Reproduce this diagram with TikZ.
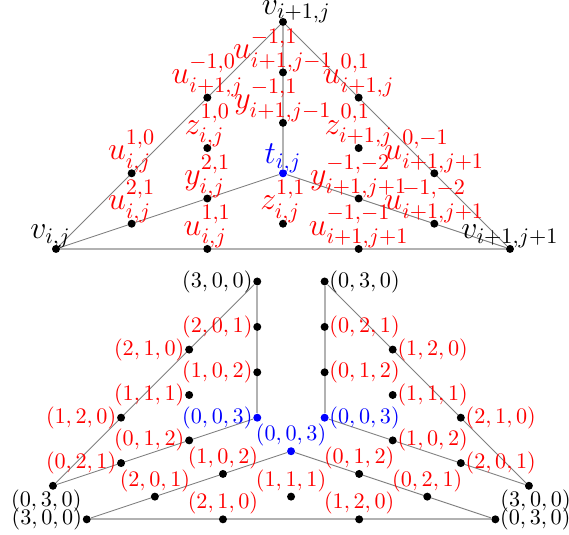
\documentclass[tikz,border=0pt]{standalone}
\usepackage{amsmath}
\usepackage{amssymb}
\usepackage{tikz}
\usetikzlibrary{backgrounds}

\tikzset{
  pt/.style={circle, fill=black, inner sep=0pt, minimum size=3.6pt},
  bpt/.style={pt, fill=blue},
  thinedge/.style={gray, line width=0.4pt},
  rimedge/.style={gray!60, line width=0.9pt},
}

\begin{document}
\begin{tikzpicture}[x=0.4cm, y=0.4cm, every label/.style={red, inner sep=0pt}, label distance=0pt]
\useasboundingbox (-2.22,-11.34) rectangle (20.34,9.87);

\begin{scope}[every label/.append style={font=\Large}, label distance=-1.8pt]
  \node[pt, label={[black,xshift=-2.5pt]above:$v_{i,j}$}] (vij) at (0,0) {};
  \node[pt, label={[black,xshift=6pt,yshift=-1pt]above:$v_{i+1,j}$}] (vi1j) at (9,9) {};
  \node[pt, label={[black]above:$v_{i+1,j+1}$}] (vi1j1) at (18,0) {};
  \node[bpt, label={[blue]above:$t_{i,j}$}] (tij) at (9,3) {};
  \foreach \x/\y/\nm/\txt in {3/3/u10/{u_{i,j}^{1,0}}, 6/6/um10/{u_{i+1,j}^{-1,0}},
      9/7/um11/{u_{i+1,j-1}^{-1,1}}, 9/5/ym11/{y_{i+1,j-1}^{-1,1}},
      6/4/z10/{z_{i,j}^{1,0}}, 3/1/u21/{u_{i,j}^{2,1}}, 6/2/y21/{y_{i,j}^{2,1}},
      6/0/u11/{u_{i,j}^{1,1}}, 9/1/z11/{z_{i,j}^{1,1}},
      12/0/um1m1/{u_{i+1,j+1}^{-1,-1}}, 12/2/ym1m2/{y_{i+1,j+1}^{-1,-2}},
      15/1/um1m2/{u_{i+1,j+1}^{-1,-2}}, 12/4/z01/{z_{i+1,j}^{0,1}},
      15/3/u0m1/{u_{i+1,j+1}^{0,-1}}, 12/6/u01/{u_{i+1,j}^{0,1}}}
    \node[pt, label={above:$\txt$}] (\nm) at (\x,\y) {};
  \begin{scope}[on background layer]
    \draw[thinedge] (vij) -- (vi1j) -- (vi1j1);
    \draw[thinedge] (vij) -- (tij) -- (vi1j1);
    \draw[rimedge] (vij) -- (vi1j1);
    \draw[rimedge] (vi1j) -- (tij);
  \end{scope}
\end{scope}

\begin{scope}[shift={(-0.12,-9.39)}, scale=0.9]
  \node[pt, label={[black]left:{$(3,0,0)$}}] (l300) at (9,9) {};
  \node[bpt, label={[blue]left:{$(0,0,3)$}}] (l003) at (9,3) {};
  \node[pt, label={[black,xshift=-3pt,yshift=0.5pt]below:{$(0,3,0)$}}] (l030) at (0,0) {};
  \foreach \x/\y/\nm/\txt in {6/6/l210/{(2,1,0)}, 3/3/l120/{(1,2,0)},
      9/7/l201/{(2,0,1)}, 9/5/l102/{(1,0,2)}, 6/4/l111/{(1,1,1)},
      6/2/l012/{(0,1,2)}, 3/1/l021/{(0,2,1)}}
    \node[pt, label={left:{$\txt$}}] (\nm) at (\x,\y) {};
  \begin{scope}[on background layer]
    \draw[thinedge] (l030) -- (l300);
    \draw[rimedge] (l300) -- (l003);
    \draw[thinedge] (l030) -- (l003);
  \end{scope}
\end{scope}

\begin{scope}[shift={(1.22,-10.72)}, scale=0.9]
  \node[pt, label={[black]left:{$(3,0,0)$}}] (m300) at (0,0) {};
  \node[bpt, label={[blue]above:{$(0,0,3)$}}] (m003) at (9,3) {};
  \node[pt, label={[black]right:{$(0,3,0)$}}] (m030) at (18,0) {};
  \foreach \x/\y/\nm/\txt in {3/1/m201/{(2,0,1)}, 6/2/m102/{(1,0,2)},
      6/0/m210/{(2,1,0)}, 9/1/m111/{(1,1,1)}, 12/0/m120/{(1,2,0)},
      12/2/m012/{(0,1,2)}, 15/1/m021/{(0,2,1)}}
    \node[pt, label={above:{$\txt$}}] (\nm) at (\x,\y) {};
  \begin{scope}[on background layer]
    \draw[rimedge] (m300) -- (m030);
    \draw[thinedge] (m300) -- (m003) -- (m030);
  \end{scope}
\end{scope}

\begin{scope}[shift={(2.55,-9.39)}, scale=0.9]
  \node[pt, label={[black]right:{$(0,3,0)$}}] (r030) at (9,9) {};
  \node[bpt, label={[blue]right:{$(0,0,3)$}}] (r003) at (9,3) {};
  \node[pt, label={[black,xshift=3pt,yshift=0.5pt]below:{$(3,0,0)$}}] (r300) at (18,0) {};
  \foreach \x/\y/\nm/\txt in {9/7/r021/{(0,2,1)}, 9/5/r012/{(0,1,2)},
      12/6/r120/{(1,2,0)}, 15/3/r210/{(2,1,0)}, 12/4/r111/{(1,1,1)},
      12/2/r102/{(1,0,2)}, 15/1/r201/{(2,0,1)}}
    \node[pt, label={right:{$\txt$}}] (\nm) at (\x,\y) {};
  \begin{scope}[on background layer]
    \draw[rimedge] (r030) -- (r003);
    \draw[thinedge] (r030) -- (r300);
    \draw[thinedge] (r003) -- (r300);
  \end{scope}
\end{scope}
\end{tikzpicture}
\end{document}
